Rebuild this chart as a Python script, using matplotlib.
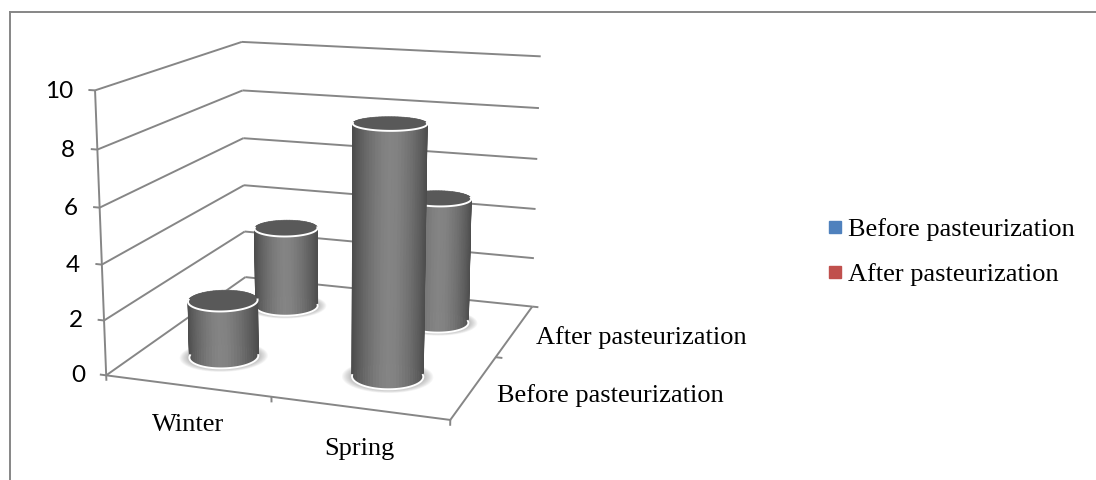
import numpy as np
import matplotlib
matplotlib.use('Agg')
import matplotlib.pyplot as plt
from matplotlib.lines import Line2D
from mpl_toolkits.mplot3d.art3d import Poly3DCollection

# Chart data
seasons = ['Winter', 'Spring']
stages = ['Before pasteurization', 'After pasteurization']
before = [2.1, 8.9]
after = [3.2, 4.9]
z_ticks = [0, 2, 4, 6, 8, 10]

W, H = 1096, 480
grid_col = '#868686'
serif = 'Liberation Serif'
radius = 0.2
elev, azim = 14.06, -70.7

fig = plt.figure(figsize=(W / 100, H / 100), dpi=100)

# Square 3D axes placed so the projected box lands where the reference has it
size = 539.7
ax = fig.add_axes([56.5 / W, -5.5 / H, size / W, size / H], projection='3d', computed_zorder=False)
ax.set_xlim(0, 2)
ax.set_ylim(0, 2)
ax.set_zlim(0, 10)
ax.view_init(elev=elev, azim=azim)
ax.set_proj_type('persp', focal_length=0.5138)
ax.set_box_aspect((3.6926, 3.7643, 2.995))
ax.set_axis_off()
ax.patch.set_alpha(0)


def line(xs, ys, zs, z=1):
    ax.plot(xs, ys, zs, color=grid_col, lw=1.4, zorder=z, solid_capstyle='butt')


# Gridlines on the two walls
for v in z_ticks:
    line([0, 0], [0, 2], [v, v])
    line([0, 2], [2, 2], [v, v])
    line([-0.04, 0], [0, 0], [v, v])
    ax.text(-0.135, 0, v - 0.1, str(v), family='Lato', fontsize=17.5, color='black',
            ha='right', va='center', zorder=20)

# Floor edges, value axis and ticks
line([0, 0], [0, 0], [0, 10])
line([0, 2], [0, 0], [0, 0])
line([2, 2], [0, 2], [0, 0])
for v in [0, 1, 2]:
    line([v, v], [0, 0], [0, -0.2])
line([2, 2.04], [1, 1], [0, 0])
line([2, 2.04], [2, 2], [0, 0])


def cylinder(cx, cy, h, z):
    th = np.linspace(0, 2 * np.pi, 73)
    a = np.radians(azim)

    # soft glow on the floor
    for k in np.linspace(1.28, 1.02, 9):
        ring = list(zip(cx + k * radius * np.cos(th), cy + k * radius * np.sin(th), np.zeros_like(th)))
        ax.add_collection3d(Poly3DCollection([ring], facecolor=(0.35, 0.35, 0.35, 0.05),
                                             edgecolor='none', zorder=z))

    # side, shaded by how far it turns away from the viewer
    T, Z = np.meshgrid(th, [0, h])
    X = cx + radius * np.cos(T)
    Y = cy + radius * np.sin(T)
    mid = (th[:-1] + th[1:]) / 2
    g = (132 - 56 * np.abs(np.sin(mid - a)) ** 1.6) / 255
    cols = np.zeros((1, len(mid), 4))
    cols[0, :, 0] = cols[0, :, 1] = cols[0, :, 2] = g
    cols[0, :, 3] = 1
    ax.plot_surface(X, Y, Z, facecolors=cols, rstride=1, cstride=1, shade=False,
                    linewidth=0.5, zorder=z + 0.1)

    # top cap
    cap = list(zip(cx + radius * np.cos(th), cy + radius * np.sin(th), np.full_like(th, h)))
    ax.add_collection3d(Poly3DCollection([cap], facecolor='#595959', edgecolor='none', zorder=z + 0.2))

    # white rims on the near half, top and bottom
    front = np.linspace(a - np.pi / 2 - 0.1, a + np.pi / 2 + 0.1, 50)
    for zz in (0, h):
        ax.plot(cx + radius * np.cos(front), cy + radius * np.sin(front), np.full_like(front, zz),
                color='white', lw=1.4, zorder=z + 0.3)


# far row first, so the nearer cylinders cover it
for i, v in enumerate(after):
    cylinder(i + 0.5, 1.5, v, 3 + i)
for i, v in enumerate(before):
    cylinder(i + 0.5, 0.5, v, 6 + i)

# Category labels
for i, s in enumerate(seasons):
    ax.text(i + 0.5, 0, -1.42, s, family=serif, fontsize=19, ha='center', va='center', zorder=20)
for i, s in enumerate(stages):
    ax.text(2.13, i + 0.5, -0.2, s, family=serif, fontsize=19, ha='left', va='center', zorder=20)

# Outer chart border: only the top and left edges show in the crop
fig.add_artist(Line2D([9.5 / W, 1], [1 - 11.5 / H, 1 - 11.5 / H], color=grid_col, lw=1.4))
fig.add_artist(Line2D([9.5 / W, 9.5 / W], [0, 1 - 11.5 / H], color=grid_col, lw=1.4))

# Legend
handles = [Line2D([], [], marker='s', ls='none', color='#4F81BD', markersize=8),
           Line2D([], [], marker='s', ls='none', color='#C0504D', markersize=8)]
fig.legend(handles, stages, loc='center left', bbox_to_anchor=(822 / W, 1 - 252 / H), frameon=False,
           prop={'family': serif, 'size': 19}, handletextpad=0.0, labelspacing=0.82,
           borderpad=0, borderaxespad=0, handlelength=1.0)

fig.savefig('out.png', dpi=100)
